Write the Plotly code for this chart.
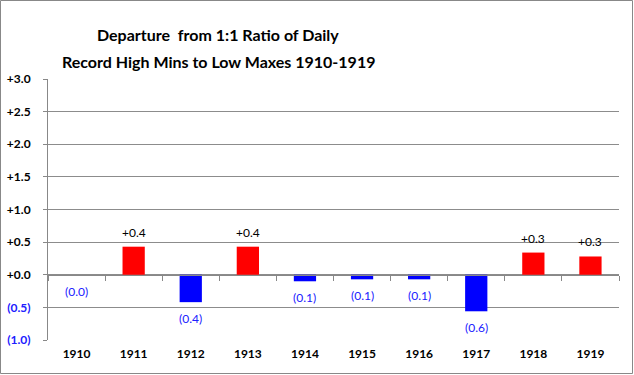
import plotly.graph_objects as go

years = ["1910", "1911", "1912", "1913", "1914", "1915", "1916", "1917", "1918", "1919"]
values = [-0.0, 0.43, -0.42, 0.43, -0.10, -0.07, -0.07, -0.56, 0.34, 0.28]
ytick_vals = [-1.0, -0.5, 0.0, 0.5, 1.0, 1.5, 2.0, 2.5, 3.0]
ytick_text = ['<span style="color:#2020ff">(1.0)</span>', '<span style="color:#2020ff">(0.5)</span>',
              "+0.0", "+0.5", "+1.0", "+1.5", "+2.0", "+2.5", "+3.0"]
title_lines = ["Departure  from 1:1 Ratio of Daily", "Record High Mins to Low Maxes 1910-1919"]

FONT = "Lato"
RED, BLUE = "#ff0000", "#0000ff"
xs = list(range(len(years)))

L, R, T, B = 48, 15, 79, 35
W, H = 634, 375
pw, ph = W - L - R, H - T - B

def fmt(v):
    return f"+{v:.1f}" if v > 0 else f"({abs(v):.1f})"

fig = go.Figure()
fig.add_trace(go.Bar(
    x=xs, y=values, width=0.39,
    marker=dict(color=[RED if v > 0 else BLUE for v in values], line=dict(width=0)),
    hoverinfo="skip",
))

annotations = []
for x, v in zip(xs, values):
    pos = v > 0
    annotations.append(dict(
        x=x, y=v, xref="x", yref="y", text=fmt(v), showarrow=False,
        yanchor="bottom" if pos else "top", yshift=5 if pos else -7,
        font=dict(family=FONT, size=12, color="#000000" if pos else "#2020ff"),
    ))

for line, py in zip(title_lines, [35, 62]):
    annotations.append(dict(
        x=(218 - L) / pw, y=1 + (T - py) / ph, xref="paper", yref="paper",
        xanchor="center", yanchor="middle",
        text=f"<b>{line}</b>", showarrow=False,
        font=dict(family=FONT, size=16, color="#000000"),
    ))

fig.update_layout(
    width=W, height=H,
    margin=dict(l=L, r=R, t=T, b=B, pad=0),
    paper_bgcolor="white", plot_bgcolor="white",
    showlegend=False,
    annotations=annotations,
    xaxis=dict(
        range=[-0.5, 9.5], tickvals=xs, ticktext=[f"<b>{y}</b>" for y in years],
        showgrid=False, zeroline=False, showline=False, ticks="", automargin=False,
        tickfont=dict(family=FONT, size=12, color="#000000"), ticklabelstandoff=5,
    ),
    xaxis2=dict(
        overlaying="x", anchor="free", position=0.25, range=[-0.5, 9.5],
        tickvals=[i - 0.5 for i in range(len(years) + 1)], showticklabels=False,
        ticks="outside", ticklen=5, tickcolor="#888888", tickwidth=1, automargin=False,
        showline=True, linecolor="#888888", linewidth=1, showgrid=False, zeroline=False,
    ),
    yaxis=dict(
        range=[-1.0, 3.0], tickvals=ytick_vals, ticktext=[f"<b>{t}</b>" for t in ytick_text],
        showgrid=True, gridcolor="#8c8c8c", gridwidth=1, zeroline=False, automargin=False,
        showline=True, linecolor="#888888", linewidth=1,
        ticks="outside", ticklen=4, tickcolor="#888888",
        tickfont=dict(family=FONT, size=12, color="#000000"), ticklabelstandoff=10,
    ),
    shapes=[dict(
        type="rect", xref="paper", yref="paper",
        x0=-(L - 0.5) / pw, x1=1 + (R - 1.5) / pw,
        y0=-(B - 1.5) / ph, y1=1 + (T - 0.5) / ph,
        line=dict(color="#888888", width=1), fillcolor="rgba(0,0,0,0)",
    )],
)
fig.add_trace(go.Scatter(x=[None], y=[None], xaxis="x2", showlegend=False, hoverinfo="skip"))

fig.write_html("out.html", config={"displayModeBar": False},
               post_script="document.body.style.margin='0px';")
